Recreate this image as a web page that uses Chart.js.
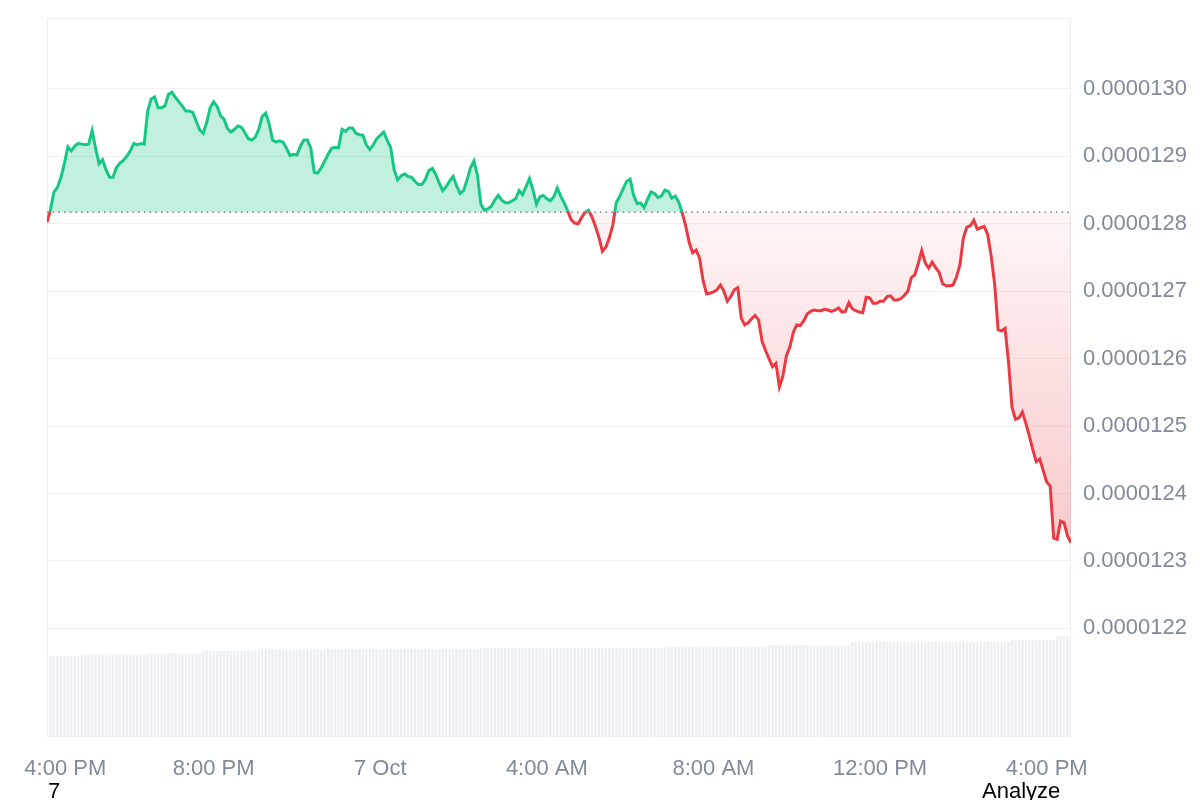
<!DOCTYPE html>
<html lang="en">
<head>
    <meta charset="UTF-8">
    <title>Price Chart</title>
    <style>
        body {
            margin: 0;
            background: #ffffff;
            font-family: "Liberation Sans", Arial, sans-serif;
        }

        .wrap {
            position: relative;
            width: 1200px;
            height: 800px;
            overflow: hidden;
        }

        canvas {
            display: block;
        }

        .note {
            position: absolute;
            top: 780px;
            font-size: 22px;
            line-height: 22px;
            color: #000;
        }
    </style>
</head>

<body>
    <div class="wrap">
        <canvas id="priceChart" width="1200" height="800"></canvas>
        <div class="note" style="left: 48px;">7</div>
        <div class="note" style="left: 982px;">Analyze</div>
    </div>

    <script src="https://cdn.jsdelivr.net/npm/chart.js"></script>

    <script>
        // price in units of 1e-7, one reading every 5 minutes starting 4:00 PM
        const prices = [
            128.02, 128.21, 128.47, 128.54, 128.68, 128.89, 129.14, 129.08, 129.15, 129.19, 129.18, 129.17,
            129.18, 129.38, 129.12, 128.89, 128.95, 128.80, 128.69, 128.69, 128.83, 128.90, 128.94, 129.00,
            129.08, 129.19, 129.17, 129.19, 129.18, 129.67, 129.85, 129.88, 129.72, 129.72, 129.75, 129.92,
            129.95, 129.87, 129.81, 129.74, 129.67, 129.67, 129.65, 129.52, 129.39, 129.34, 129.50, 129.72,
            129.81, 129.74, 129.60, 129.55, 129.41, 129.36, 129.40, 129.45, 129.43, 129.35, 129.26, 129.24,
            129.28, 129.40, 129.59, 129.64, 129.48, 129.24, 129.21, 129.23, 129.21, 129.12, 129.01, 129.03,
            129.02, 129.15, 129.24, 129.24, 129.12, 128.76, 128.75, 128.83, 128.93, 129.03, 129.12, 129.13,
            129.13, 129.40, 129.37, 129.42, 129.42, 129.34, 129.32, 129.31, 129.17, 129.10, 129.17, 129.26,
            129.31, 129.36, 129.24, 129.13, 128.80, 128.65, 128.71, 128.74, 128.70, 128.69, 128.63, 128.58,
            128.58, 128.66, 128.79, 128.82, 128.73, 128.60, 128.49, 128.55, 128.63, 128.70, 128.56, 128.45,
            128.49, 128.65, 128.83, 128.93, 128.72, 128.29, 128.20, 128.22, 128.26, 128.35, 128.42, 128.35,
            128.31, 128.31, 128.34, 128.37, 128.49, 128.43, 128.55, 128.67, 128.50, 128.29, 128.40, 128.42,
            128.37, 128.34, 128.40, 128.53, 128.41, 128.31, 128.19, 128.06, 128.01, 128.00, 128.09, 128.17,
            128.20, 128.10, 127.96, 127.80, 127.59, 127.65, 127.79, 127.98, 128.31, 128.41, 128.52, 128.63,
            128.66, 128.42, 128.30, 128.31, 128.24, 128.36, 128.47, 128.45, 128.39, 128.41, 128.50, 128.48,
            128.38, 128.41, 128.32, 128.16, 127.97, 127.72, 127.57, 127.61, 127.49, 127.16, 126.96, 126.97,
            126.99, 127.02, 127.09, 127.00, 126.85, 126.92, 127.02, 127.05, 126.60, 126.50, 126.53, 126.59,
            126.64, 126.57, 126.26, 126.12, 126.00, 125.88, 125.93, 125.58, 125.74, 126.04, 126.17, 126.39,
            126.50, 126.49, 126.56, 126.66, 126.70, 126.72, 126.71, 126.71, 126.73, 126.72, 126.70, 126.72,
            126.75, 126.69, 126.70, 126.83, 126.74, 126.71, 126.69, 126.68, 126.91, 126.90, 126.82, 126.82,
            126.85, 126.85, 126.92, 126.93, 126.87, 126.87, 126.89, 126.94, 127.00, 127.20, 127.24, 127.41,
            127.60, 127.42, 127.34, 127.43, 127.35, 127.28, 127.11, 127.08, 127.08, 127.09, 127.21, 127.39,
            127.79, 127.95, 127.97, 128.05, 127.92, 127.94, 127.96, 127.84, 127.52, 127.11, 126.43, 126.41,
            126.45, 125.95, 125.28, 125.10, 125.12, 125.21, 125.04, 124.85, 124.65, 124.47, 124.51, 124.34,
            124.17, 124.11, 123.34, 123.32, 123.59, 123.57, 123.37, 123.27
        ];

        // volume bars, same 5 minute steps
        const volumes = [
            162, 162, 162, 162, 162, 162, 162, 162, 162, 162, 165, 165,
            165, 165, 165, 165, 165, 165, 165, 165, 165, 165, 165, 165,
            165, 165, 165, 165, 165, 168, 168, 168, 168, 168, 168, 168,
            168, 168, 168, 168, 168, 168, 168, 168, 168, 172, 172, 172,
            172, 172, 172, 172, 172, 172, 172, 172, 172, 172, 172, 172,
            172, 172, 175, 175, 175, 175, 175, 175, 175, 175, 175, 175,
            175, 175, 175, 175, 175, 175, 175, 175, 175, 177, 177, 177,
            177, 177, 177, 177, 177, 177, 177, 177, 177, 177, 177, 177,
            177, 177, 177, 177, 177, 177, 177, 177, 177, 177, 177, 177,
            177, 177, 177, 177, 177, 177, 177, 177, 177, 177, 177, 177,
            177, 177, 177, 177, 177, 178, 178, 178, 178, 178, 178, 178,
            178, 178, 178, 178, 178, 178, 178, 178, 178, 178, 178, 178,
            178, 178, 178, 178, 178, 178, 178, 178, 178, 178, 178, 178,
            178, 178, 178, 178, 178, 178, 178, 178, 178, 178, 178, 178,
            178, 178, 178, 178, 178, 178, 178, 178, 178, 178, 180, 180,
            180, 180, 180, 180, 180, 180, 180, 180, 180, 180, 180, 180,
            180, 180, 180, 180, 180, 180, 180, 180, 180, 180, 180, 180,
            180, 180, 180, 180, 184, 184, 184, 184, 184, 184, 184, 184,
            184, 184, 184, 184, 184, 184, 184, 184, 184, 184, 184, 184,
            184, 184, 184, 184, 190, 190, 190, 190, 190, 190, 190, 190,
            190, 190, 190, 190, 190, 190, 190, 190, 190, 190, 190, 190,
            190, 190, 190, 190, 190, 190, 190, 190, 190, 190, 190, 190,
            190, 190, 190, 190, 190, 190, 190, 190, 190, 190, 190, 190,
            190, 190, 194, 194, 194, 194, 194, 194, 194, 194, 194, 194,
            194, 194, 194, 202, 202, 202, 202, 202
        ];

        const basePrice = 128.17;
        const yTicks = [122, 123, 124, 125, 126, 127, 128, 129, 130];
        const xTickMinutes = [0, 240, 480, 720, 960, 1200, 1440];
        const xTickLabels = ['4:00 PM', '8:00 PM', '7 Oct', '4:00 AM', '8:00 AM', '12:00 PM', '4:00 PM'];

        const minutes = prices.map((p, i) => i * 5);
        const lastMinute = minutes[minutes.length - 1];

        const GREEN = '#16c784';
        const RED = '#ea3943';
        const AXIS_TEXT = '#808a9d';
        const GRID = '#eff2f5';

        Chart.defaults.font.family = '"Liberation Sans", Arial, sans-serif';

        function baseFraction(chart) {
            const area = chart.chartArea;
            const y = chart.scales.y.getPixelForValue(basePrice);
            return Math.min(1, Math.max(0, (y - area.top) / (area.bottom - area.top)));
        }

        function lineColor(context) {
            const chart = context.chart;
            const area = chart.chartArea;
            if (!area) return GREEN;
            const f = baseFraction(chart);
            const g = chart.ctx.createLinearGradient(0, area.top, 0, area.bottom);
            g.addColorStop(0, GREEN);
            g.addColorStop(f, GREEN);
            g.addColorStop(f, RED);
            g.addColorStop(1, RED);
            return g;
        }

        function fillColor(context) {
            const chart = context.chart;
            const area = chart.chartArea;
            if (!area) return 'rgba(22, 199, 132, 0.27)';
            const f = baseFraction(chart);
            const g = chart.ctx.createLinearGradient(0, area.top, 0, area.bottom);
            g.addColorStop(0, 'rgba(22, 199, 132, 0.27)');
            g.addColorStop(f, 'rgba(22, 199, 132, 0.27)');
            g.addColorStop(f, 'rgba(234, 57, 67, 0.05)');
            g.addColorStop(1, 'rgba(234, 57, 67, 0.4)');
            return g;
        }

        // thin box around the plot area
        const frame = {
            id: 'frame',
            beforeDatasetsDraw(chart) {
                const { ctx, chartArea: a } = chart;
                ctx.save();
                ctx.strokeStyle = '#eceff2';
                ctx.lineWidth = 1;
                ctx.strokeRect(a.left + 0.5, a.top + 0.5, a.right - a.left - 1, a.bottom - a.top - 1);
                ctx.restore();
            }
        };

        const ctx = document.getElementById('priceChart').getContext('2d');
        new Chart(ctx, {
            type: 'line',
            data: {
                labels: minutes,
                datasets: [
                    {
                        label: 'Base',
                        data: [{ x: 0, y: basePrice }, { x: lastMinute, y: basePrice }],
                        borderColor: '#7f8690',
                        borderWidth: 1.6,
                        borderDash: [1.6, 4.1],
                        pointRadius: 0,
                        fill: false,
                        order: 0
                    },
                    {
                        label: 'Price',
                        data: prices,
                        borderColor: lineColor,
                        backgroundColor: fillColor,
                        borderWidth: 3,
                        pointRadius: 0,
                        tension: 0,
                        fill: { value: basePrice },
                        order: 1
                    },
                    {
                        type: 'bar',
                        label: 'Volume',
                        data: volumes,
                        yAxisID: 'vol',
                        backgroundColor: '#eceff3',
                        categoryPercentage: 1,
                        barPercentage: 0.72,
                        order: 2
                    }
                ]
            },
            options: {
                responsive: false,
                animation: false,
                events: [],
                layout: {
                    padding: { left: 47, top: 18, right: 0, bottom: 0 }
                },
                plugins: {
                    legend: { display: false },
                    tooltip: { enabled: false }
                },
                scales: {
                    x: {
                        type: 'linear',
                        min: 0,
                        max: lastMinute,
                        offset: false,
                        grid: { display: false, offset: false },
                        border: { display: false },
                        afterBuildTicks: scale => {
                            scale.ticks = xTickMinutes.map(v => ({ value: v }));
                        },
                        afterFit: scale => {
                            scale.height = 63;
                            scale.paddingLeft = 0;
                            scale.paddingRight = 0;
                        },
                        ticks: {
                            color: AXIS_TEXT,
                            font: { size: 22 },
                            padding: 11,
                            maxRotation: 0,
                            autoSkip: false,
                            // first label is pushed in a bit so it stays under the plot, like the original
                            callback: (value, index) => index === 0 ? '      ' + xTickLabels[index] : xTickLabels[index]
                        }
                    },
                    y: {
                        position: 'right',
                        min: 120.39,
                        max: 131.05,
                        grid: { color: GRID, drawTicks: false },
                        border: { display: false },
                        afterBuildTicks: scale => {
                            scale.ticks = yTicks.map(v => ({ value: v }));
                        },
                        afterFit: scale => {
                            scale.width = 129;
                            scale.paddingTop = 0;
                            scale.paddingBottom = 0;
                        },
                        ticks: {
                            color: AXIS_TEXT,
                            font: { size: 22 },
                            padding: 12,
                            callback: value => (value / 1e7).toFixed(7)
                        }
                    },
                    vol: {
                        display: false,
                        min: 0,
                        max: 1440
                    }
                }
            },
            plugins: [frame]
        });
    </script>
</body>
</html>
